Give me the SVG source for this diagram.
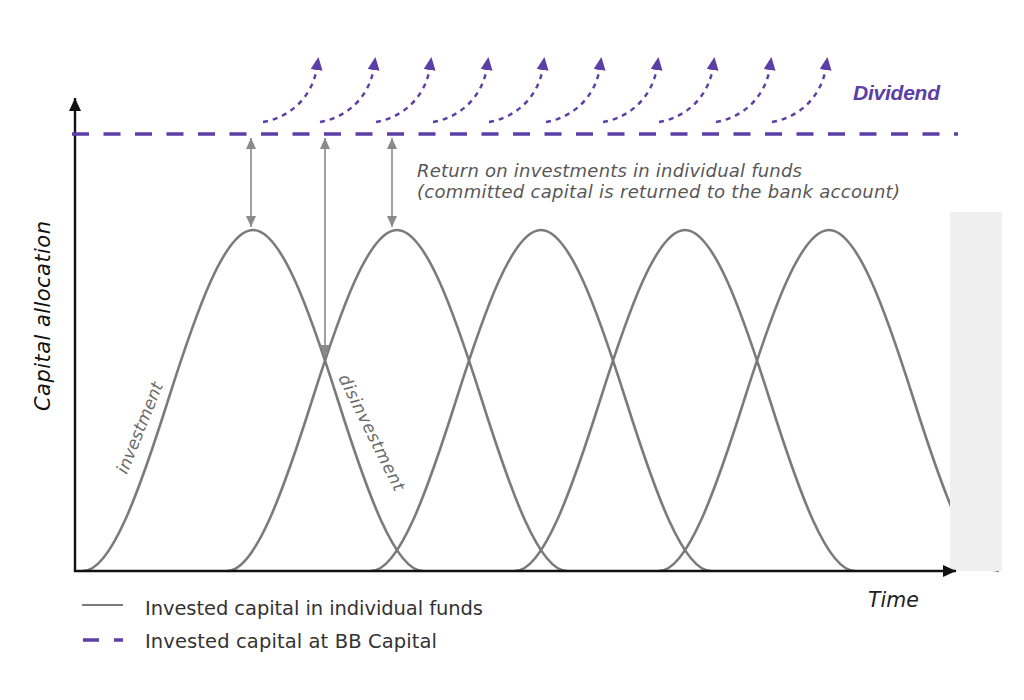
<svg xmlns="http://www.w3.org/2000/svg" xmlns:xlink="http://www.w3.org/1999/xlink" width="1024" height="700" viewBox="0 0 1024 700">
<style>
.bell{fill:none;stroke:#7b7b7b;stroke-width:2.6}
.axis{stroke:#111;stroke-width:2.4;fill:none}
.bbline{fill:none;stroke:#5b3ea6;stroke-width:3.5;stroke-dasharray:17 14.5}
.div{fill:none;stroke:#5b3ea6;stroke-width:2.4;stroke-dasharray:5 5}
.ret{stroke:#8a8a8a;stroke-width:1.6;fill:none}
.t{font-family:"DejaVu Sans","Liberation Sans",sans-serif}
.lab{font-family:"DejaVu Sans","Liberation Sans",sans-serif;font-style:italic;fill:#6a6a6a;font-size:17px}
</style>
<defs>
<path id="bell" d="M -170,571 C -141.67,571 -113.33,489.8 -85,400.5 C -56.67,311.2 -28.33,230 0,230 C 28.33,230 56.67,311.2 85,400.5 C 113.33,489.8 141.67,571 170,571"/>
<marker id="ah" markerUnits="userSpaceOnUse" markerWidth="14" markerHeight="14" refX="13" refY="6" orient="auto">
<path d="M0,0 L13,6 L0,12 z" fill="#111"/>
</marker>
<marker id="ph" markerUnits="userSpaceOnUse" markerWidth="15" markerHeight="14" refX="3" refY="6" orient="auto">
<path d="M0,0 L13,6 L0,12 z" fill="#5b3ea6"/>
</marker>
<marker id="gh" markerUnits="userSpaceOnUse" markerWidth="12" markerHeight="12" refX="11" refY="5" orient="auto-start-reverse">
<path d="M0,0 L11,5 L0,10 z" fill="#8a8a8a"/>
</marker>
</defs>
<rect width="1024" height="700" fill="#ffffff"/>

<g id="curves">
<use xlink:href="#bell" href="#bell" x="253" class="bell"/>
<use xlink:href="#bell" href="#bell" x="397" class="bell"/>
<use xlink:href="#bell" href="#bell" x="541" class="bell"/>
<use xlink:href="#bell" href="#bell" x="685" class="bell"/>
<use xlink:href="#bell" href="#bell" x="829" class="bell"/>
</g>

<rect id="greyband" x="950" y="212" width="52" height="359" fill="#efefef"/>

<g id="axes">
<line class="axis" x1="75" y1="572" x2="75" y2="98" marker-end="url(#ah)"/>
<line class="axis" x1="74" y1="571" x2="956" y2="571" marker-end="url(#ah)"/>
</g>

<g id="bbcapital">
<line class="bbline" x1="72" y1="134" x2="958" y2="134"/>
</g>

<g id="dividends">
<path class="div" d="M263,122 C292,117 313,95 317,67" marker-end="url(#ph)"/>
<path class="div" d="M320,122 C349,117 370,95 374,67" marker-end="url(#ph)"/>
<path class="div" d="M376,122 C405,117 426,95 430,67" marker-end="url(#ph)"/>
<path class="div" d="M433,122 C462,117 483,95 487,67" marker-end="url(#ph)"/>
<path class="div" d="M489,122 C518,117 539,95 543,67" marker-end="url(#ph)"/>
<path class="div" d="M546,122 C575,117 596,95 600,67" marker-end="url(#ph)"/>
<path class="div" d="M603,122 C632,117 653,95 657,67" marker-end="url(#ph)"/>
<path class="div" d="M659,122 C688,117 709,95 713,67" marker-end="url(#ph)"/>
<path class="div" d="M716,122 C745,117 766,95 770,67" marker-end="url(#ph)"/>
<path class="div" d="M772,122 C801,117 822,95 826,67" marker-end="url(#ph)"/>
</g>

<g id="returns">
<line class="ret" x1="251" y1="138" x2="251" y2="227" marker-start="url(#gh)" marker-end="url(#gh)"/>
<line class="ret" x1="325" y1="138" x2="325" y2="356" marker-start="url(#gh)" marker-end="url(#gh)"/>
<line class="ret" x1="392" y1="138" x2="392" y2="227" marker-start="url(#gh)" marker-end="url(#gh)"/>
</g>

<g id="labels">
<text class="t" x="853" y="100" style="font-family:'Liberation Sans',Arial,sans-serif" font-size="21" font-weight="bold" font-style="italic" fill="#5b3ea6" textLength="87">Dividend</text>
<text class="t" x="417" y="177" font-size="18" font-style="italic" fill="#575757" textLength="385">Return on investments in individual funds</text>
<text class="t" x="417" y="198" font-size="18" font-style="italic" fill="#575757" textLength="483">(committed capital is returned to the bank account)</text>
<text class="t" transform="translate(50,316) rotate(-90)" text-anchor="middle" font-size="21" font-style="italic" fill="#111" textLength="190">Capital allocation</text>
<text class="t" x="868" y="607" font-size="20.5" font-style="italic" fill="#222">Time</text>
<text class="lab" transform="translate(145,430) rotate(-68)" text-anchor="middle" textLength="97">investment</text>
<text class="lab" transform="translate(366.5,435) rotate(63.6)" text-anchor="middle" textLength="128">disinvestment</text>
</g>

<g id="legend">
<line x1="82" y1="605" x2="123" y2="605" stroke="#7b7b7b" stroke-width="2.2"/>
<line x1="83" y1="640" x2="99" y2="640" stroke="#5b3ea6" stroke-width="3.5"/>
<line x1="114" y1="640" x2="123" y2="640" stroke="#5b3ea6" stroke-width="3.5"/>
<text class="t" x="145" y="615" font-size="19.5" fill="#333" textLength="338">Invested capital in individual funds</text>
<text class="t" x="145" y="648" font-size="19.5" fill="#333" textLength="292">Invested capital at BB Capital</text>
</g>
</svg>
